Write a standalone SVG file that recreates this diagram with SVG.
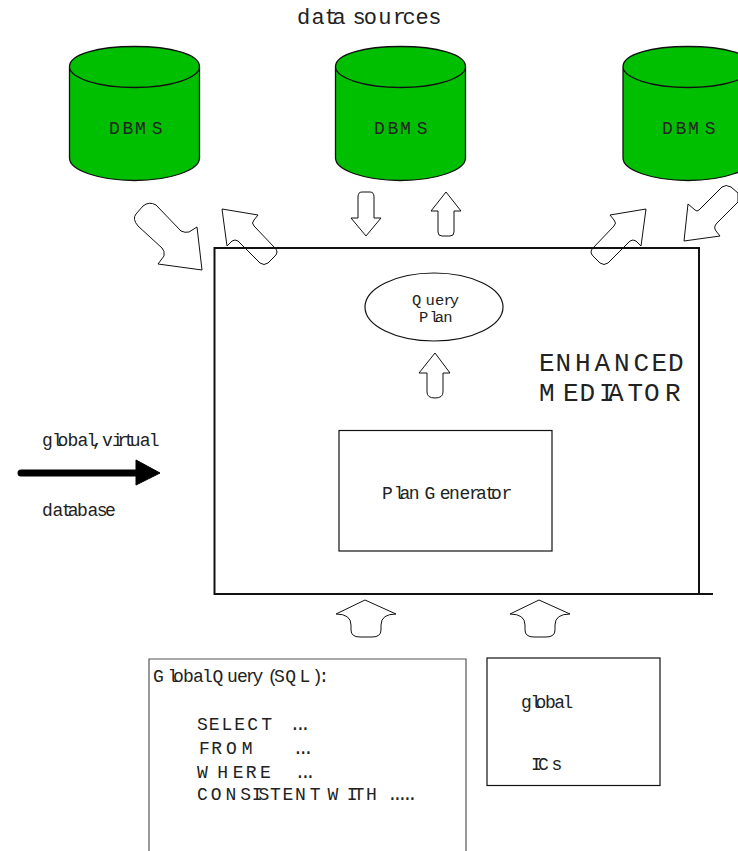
<svg xmlns="http://www.w3.org/2000/svg" width="738" height="851" viewBox="0 0 738 851">
<style>
text{font-family:"Liberation Mono",monospace;fill:#222;font-size:18px}
.big{font-size:26px}
.ttl{font-size:22px}
.sm{font-size:15.500px}
.cyl{fill:#00bf00;stroke:#111;stroke-width:1.3}
.ar{fill:none;stroke:#111;stroke-width:1;stroke-linejoin:round}
.box{fill:none;stroke:#111;stroke-width:1.2}
.qb{fill:none;stroke:#555;stroke-width:1.2}
</style>
<defs>
<g id="cyl">
<path class="cyl" d="M0 19.500V111C0 123 29 133.500 65 133.500S130 123 130 111V19.500C130 7 101 -0.500 65 -0.500S0 7 0 19.500C0 31 29 40.500 65 40.500S130 31 130 19.500"/>
</g>
</defs>
<rect width="738" height="851" fill="#fff"/>
<text id="title" class="ttl" y="24" x="297 311.500 324.400 332.400 345.300 352.600 363.800 378.300 392.800 402.500 415.400 428.300">data sources</text>
<g id="dbms1"><use href="#cyl" x="69.500" y="47"/><text y="134" x="109 122.600 135.100 151.800">DBMS</text></g>
<g id="dbms2"><use href="#cyl" x="335.500" y="47"/><text y="134" x="374 387.600 400.100 416.800">DBMS</text></g>
<g id="dbms3"><use href="#cyl" x="623" y="47"/><text y="134" x="662 675.600 688.100 704.800">DBMS</text></g>
<g id="mediator">
<path fill="none" stroke="#111" stroke-width="2" d="M699 594V248H214.500V594H713"/>
<text class="big" y="371" x="539 555.500 575 594.500 614 633.500 651.500 668">ENHANCED</text>
<text class="big" y="401" x="539 563 579.500 599 608 627.500 644 665">MEDIATOR</text>
</g>
<g id="query-plan"><ellipse class="box" cx="434" cy="307" rx="69" ry="34"/>
<text class="sm" y="305" x="412 425.600 435.100 443.500 449.800">Query</text>
<text class="sm" y="322" x="419 429.500 434.800 443.200">Plan</text></g>
<g id="plan-generator"><rect class="box" x="339" y="430.500" width="213" height="120.500"/>
<text y="499" x="382 393.700 399.500 408.800 419.300 424.600 439.800 449.100 459.600 468.900 475.900 485.200 491.100 501.600">Plan Generator</text></g>
<g id="global-query"><path class="qb" d="M149 851V659H466V851"/>
<text y="682" x="153 167.400 173 183 193 201.900 207.400 212.400 226.900 236.900 245.800 252.400 262.400 267.400 274.100 285.200 299.600 311.900 318.500">Global Query (SQL):</text>
<text y="730" x="197 208.700 221.500 234.300 247.200 261.200">SELECT</text><text y="730" x="289.600 294.900 300.100">...</text>
<text y="754" x="199 211.200 225.900 241.800">FROM</text><text y="754" x="292.600 297.800 303.100">...</text>
<text y="778" x="197 217.200 232.700 245.700 260">WHERE</text><text y="778" x="294.600 299.900 305.100">...</text>
<text y="800" x="197 210.700 225.500 240.300 251.700 258.500 269.900 282.400 294.900 309.800 322.300 327.400 346.800 353.600 366.100">CONSISTENT WITH</text><text y="800" x="387 392 397 402 407">.....</text>
</g>
<g id="global-ics"><rect class="box" x="487" y="658" width="173" height="127.500"/>
<text y="708" x="521 530.400 535.500 544.900 554.200 562.600">global</text>
<text y="770" x="531 537.900 551.600">ICs</text></g>
<g id="global-virtual-database">
<text y="446" x="42 52 57.600 67.600 77.600 86.400 92 97 102 112 117.600 124.200 129.800 139.800 148.700">global, virtual</text>
<text y="516" x="42 52.500 61.800 67.700 77 87.500 96.800 105">database</text>
</g>
<g id="connectors">
<path class="ar" d="M197 227L202 270L158 264L164 256Q165 251 162 248L138 226Q132 219 136 214L143 206Q149 201 156 205L181 231Q185 233 189 232Z"/>
<path class="ar" d="M222 209L258 215L254 220Q251 223 254 226L275 248Q279 252 275 256L268 263Q264 266 260 263L238 241Q235 239 232 241L227 246Z"/>
<path class="ar" d="M351 218L366 236L381 218L374 218V197Q374 192 370 192H362Q358 192 358 197V218Z"/>
<path class="ar" d="M446 192L461 211H454V232Q454 236 450 236H442Q438 236 438 232V211H431Z"/>
<path class="ar" d="M646 209L610 215L614 220Q617 223 614 226L593 248Q589 252 593 256L600 263Q604 266 608 263L630 241Q633 239 636 241L641 246Z"/>
<path class="ar" d="M684 241L688 204L695 210Q697 212 699 210L722 187Q726 184 731 187L738 193V202L717 223Q713 227 716 231L720 236Z"/>
<path class="ar" d="M435 353L450 373H443V392Q443 398 435 398T427 392V373H419Z"/>
<path class="ar" d="M365 600L396 614Q381 614 381 625V630Q381 637 372 637H360Q351 637 351 630V625Q351 614 336 614Z"/>
<path class="ar" d="M539 600L570 614Q555 614 555 625V630Q555 637 546 637H534Q525 637 525 630V625Q525 614 510 614Z"/>
<path fill="#000" stroke="#000" stroke-width="1" stroke-linejoin="miter" d="M136 460L160 473L136 485Z"/>
<path fill="none" stroke="#000" stroke-width="7" stroke-linecap="round" d="M21 473H138"/>
</g>
</svg>
